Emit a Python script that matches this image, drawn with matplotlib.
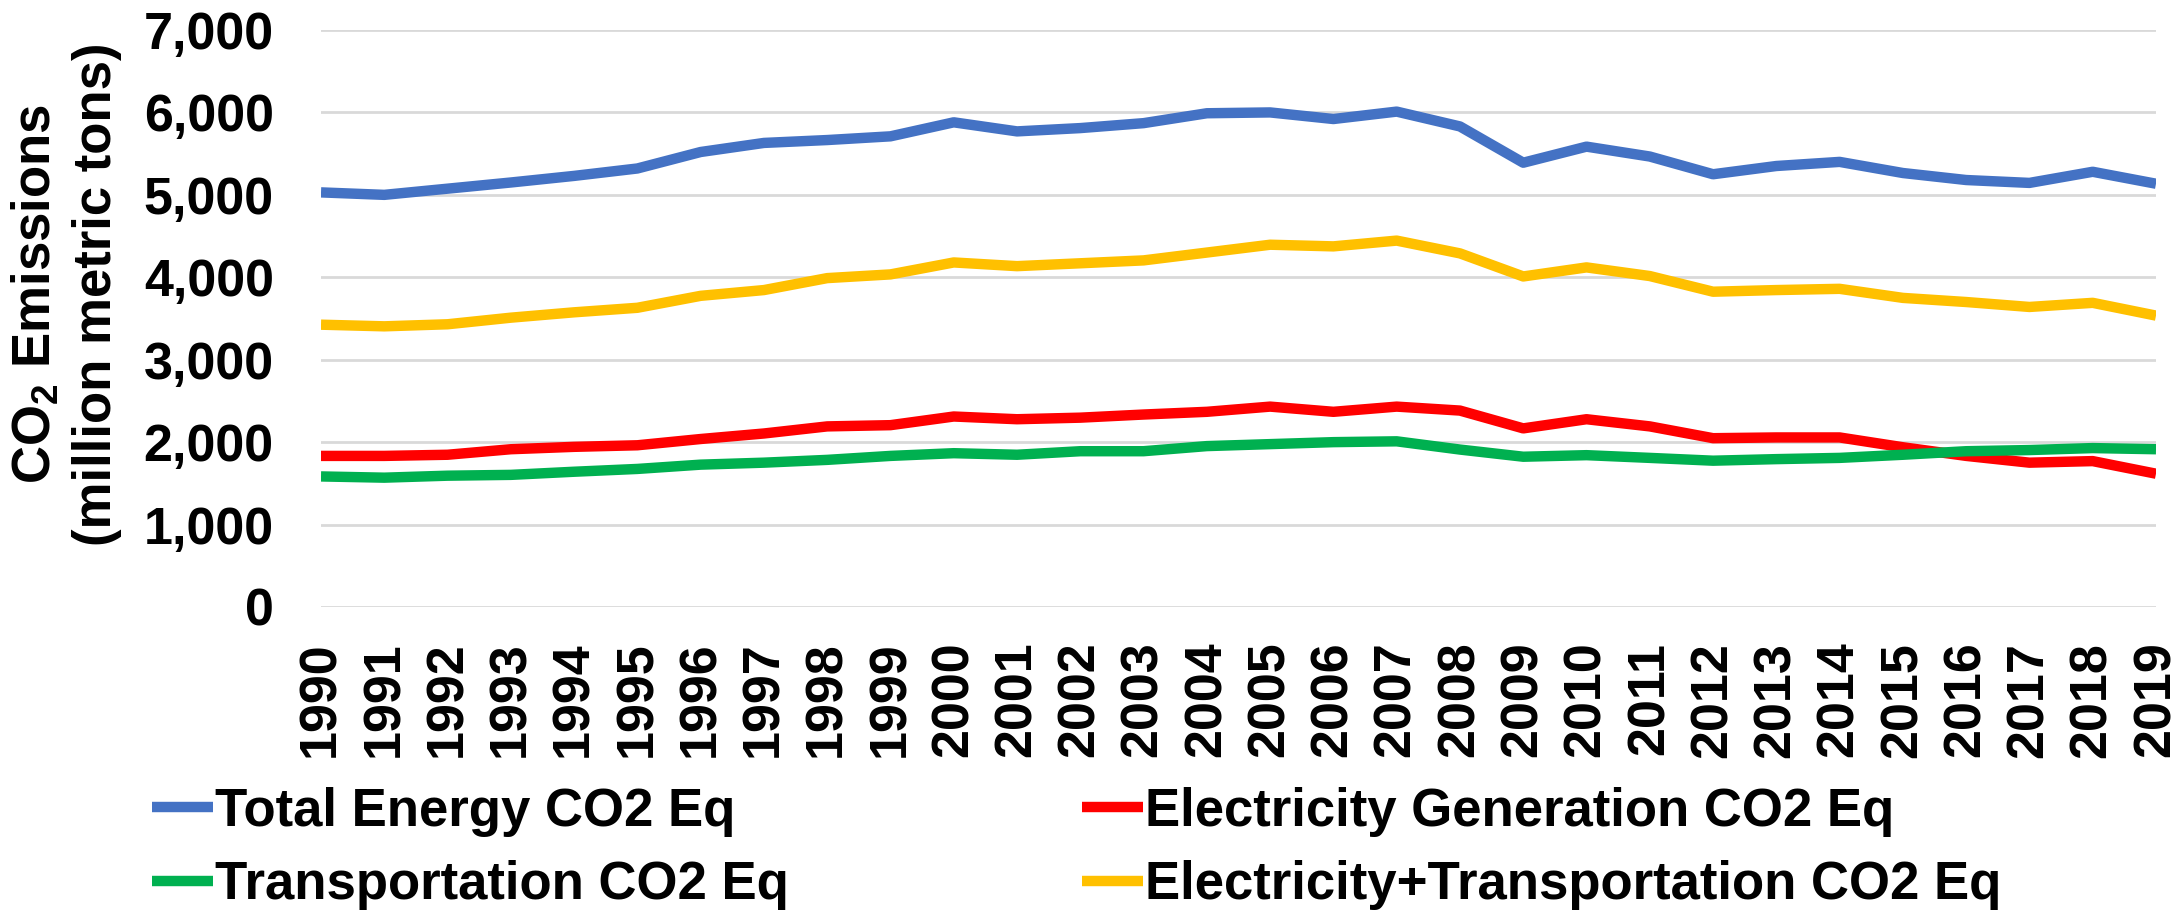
import matplotlib
matplotlib.use("Agg")
import matplotlib.pyplot as plt
from matplotlib.ticker import FuncFormatter

# Datos (millones de toneladas metricas)
years = list(range(1990, 2020))
total_energy = [5030, 5000, 5075, 5150, 5230, 5320, 5520, 5630, 5665, 5710,
                5880, 5770, 5810, 5870, 5990, 6000, 5920, 6010, 5830, 5390,
                5585, 5465, 5250, 5350, 5400, 5265, 5180, 5145, 5280, 5135]
electricity = [1833, 1833, 1847, 1914, 1943, 1962, 2038, 2105, 2191, 2206,
               2311, 2278, 2297, 2335, 2368, 2431, 2368, 2431, 2383, 2167,
               2278, 2191, 2048, 2057, 2057, 1938, 1833, 1751, 1770, 1617]
transportation = [1584, 1569, 1593, 1603, 1641, 1675, 1727, 1751, 1785, 1833,
                  1866, 1847, 1890, 1890, 1952, 1976, 2000, 2010, 1910, 1823,
                  1842, 1809, 1775, 1794, 1809, 1847, 1890, 1904, 1928, 1914]
elec_plus_trans = [3425, 3405, 3430, 3510, 3575, 3630, 3775, 3845, 3990, 4035,
                   4180, 4135, 4170, 4205, 4300, 4395, 4375, 4445, 4290, 4010,
                   4120, 4015, 3825, 3845, 3860, 3750, 3700, 3640, 3690, 3535]

plt.rcParams['font.family'] = ['Liberation Sans', 'DejaVu Sans']
plt.rcParams['font.weight'] = 'bold'
plt.rcParams['mathtext.fontset'] = 'custom'
plt.rcParams['mathtext.rm'] = 'Liberation Sans:bold'
plt.rcParams['mathtext.bf'] = 'Liberation Sans:bold'

FS = 37.5      # etiquetas de los ejes
FS_LEG = 38    # leyenda y titulo del eje Y

fig = plt.figure(figsize=(21.83, 9.18), dpi=100)
ax = fig.add_axes([321 / 2183, 1 - 607 / 918, (2156 - 321) / 2183, (607 - 30) / 918])

lw = 7.5
l_total, = ax.plot(years, total_energy, color='#4472C4', lw=lw, solid_capstyle='butt')
l_elec, = ax.plot(years, electricity, color='#FF0000', lw=lw, solid_capstyle='butt')
l_trans, = ax.plot(years, transportation, color='#00B050', lw=lw, solid_capstyle='butt')
l_et, = ax.plot(years, elec_plus_trans, color='#FFC000', lw=lw, solid_capstyle='butt')

ax.set_xlim(1990, 2019)
ax.set_ylim(0, 7000)
ax.set_yticks(range(0, 7001, 1000))
ax.yaxis.set_major_formatter(FuncFormatter(lambda v, p: f"{int(v):,}"))
ax.set_xticks(years)
ax.set_xticklabels([str(y) for y in years], rotation=90)

ax.grid(axis='y', color='#D9D9D9', lw=2)
ax.set_axisbelow(True)
for s in ax.spines.values():
    s.set_visible(False)
ax.tick_params(axis='both', length=0, labelsize=FS)
ax.tick_params(axis='x', pad=25)
ax.tick_params(axis='y', pad=34)
for t in ax.get_xticklabels() + ax.get_yticklabels():
    t.set_fontweight('bold')

# Titulo del eje Y en dos lineas
fig.text(35 / 2183, 1 - 294 / 918, r'CO$_{2}$ Emissions', rotation=90,
         ha='center', va='center', fontsize=FS_LEG, fontweight='bold')
fig.text(97 / 2183, 1 - 294 / 918, '(million metric tons)', rotation=90,
         ha='center', va='center', fontsize=FS_LEG, fontweight='bold')

fig.legend([l_total, l_trans, l_elec, l_et],
           ['Total Energy CO2 Eq', 'Transportation CO2 Eq',
            'Electricity Generation CO2 Eq', 'Electricity+Transportation CO2 Eq'],
           ncol=2, loc='center left', bbox_to_anchor=(152 / 2183, 1 - 848.5 / 918),
           frameon=False, borderpad=0, borderaxespad=0, handlelength=1.15,
           handletextpad=0.05, columnspacing=5.55, labelspacing=0.44,
           prop={'size': FS_LEG, 'weight': 'bold'})

fig.savefig('out.png', dpi=100)
